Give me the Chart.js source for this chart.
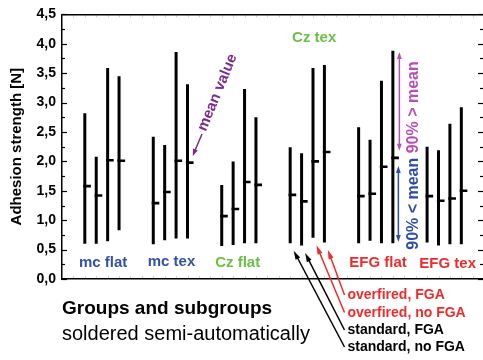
<!DOCTYPE html>
<html><head><meta charset="utf-8">
<script src="https://cdn.jsdelivr.net/npm/chart.js@4"></script>
<style>html,body{margin:0;padding:0;background:#fff}#wrap{width:483px;height:360px}</style>
</head><body><div id="wrap"><canvas id="c" width="483" height="360"></canvas></div>
<script>
// ---- data ----
const groups = ['mc flat', 'mc tex', 'Cz flat', 'Cz tex', 'EFG flat', 'EFG tex'];
const subgroups = ['standard, no FGA', 'standard, FGA', 'overfired, no FGA', 'overfired, FGA'];
const lowValues = [
  [0.60, 0.60, 0.64, 0.83],
  [0.59, 0.66, 0.69, 0.69],
  [0.56, 0.58, 0.61, 0.61],
  [0.61, 0.57, 0.70, 0.62],
  [0.61, 0.65, 0.61, 0.61],
  [0.62, 0.57, 0.59, 0.59]
];
const highValues = [
  [2.82, 2.08, 3.59, 3.45],
  [2.42, 2.28, 3.86, 3.31],
  [1.60, 2.00, 3.23, 2.75],
  [2.24, 2.14, 3.59, 3.64],
  [2.58, 2.37, 3.37, 3.88],
  [2.25, 2.19, 2.64, 2.92]
];
const meanValues = [
  [1.58, 1.42, 2.02, 2.01],
  [1.29, 1.48, 2.01, 1.98],
  [1.07, 1.19, 1.65, 1.60],
  [1.43, 1.32, 2.00, 2.16],
  [1.41, 1.45, 1.91, 2.06],
  [1.41, 1.33, 1.37, 1.50]
];
const yTickValues = [0, 0.5, 1, 1.5, 2, 2.5, 3, 3.5, 4, 4.5];

// ---- styles ----
const FONT = '"Liberation Sans", Arial, Helvetica, sans-serif';
const BLUE = '#3551a4', GREEN = '#6abf45', RED = '#ee2b2b';
const groupColors = [BLUE, BLUE, GREEN, GREEN, RED, RED];
const subColors = ['#000', '#000', RED, RED];

function xPos(g, s) { return 6 * g + s + 1; }

const rangeData = [], meanData = [];
groups.forEach((g, gi) => {
  subgroups.forEach((sg, si) => {
    const x = xPos(gi, si);
    rangeData.push({x: x, y: lowValues[gi][si]}, {x: x, y: highValues[gi][si]}, {x: x, y: null});
    meanData.push({x: x - 0.14, y: meanValues[gi][si]}, {x: x + 0.53, y: meanValues[gi][si]}, {x: x + 0.53, y: null});
  });
});

function arrow(ctx, x1, y1, x2, y2, color, both, hl, hw) {
  hl = hl || 8; hw = hw || 2.6;
  ctx.save();
  ctx.strokeStyle = color; ctx.fillStyle = color; ctx.lineWidth = 1.5;
  const a = Math.atan2(y2 - y1, x2 - x1);
  const ux = Math.cos(a), uy = Math.sin(a);
  ctx.beginPath();
  ctx.moveTo(x1 + (both ? ux * hl * 0.8 : 0), y1 + (both ? uy * hl * 0.8 : 0));
  ctx.lineTo(x2 - ux * hl * 0.8, y2 - uy * hl * 0.8);
  ctx.stroke();
  const head = (px, py, dx, dy) => {
    ctx.beginPath();
    ctx.moveTo(px, py);
    ctx.lineTo(px - dx * hl - dy * hw, py - dy * hl + dx * hw);
    ctx.lineTo(px - dx * hl + dy * hw, py - dy * hl - dx * hw);
    ctx.closePath(); ctx.fill();
  };
  head(x2, y2, ux, uy);
  if (both) head(x1, y1, -ux, -uy);
  ctx.restore();
}

function rotText(ctx, text, cx, cy, ang, color, font) {
  ctx.save();
  ctx.translate(cx, cy); ctx.rotate(ang);
  ctx.fillStyle = color; ctx.font = font;
  ctx.textAlign = 'center'; ctx.textBaseline = 'middle';
  ctx.fillText(text, 0, 0);
  ctx.restore();
}

const annot = {
  id: 'annot',
  afterDraw(chart) {
    const ctx = chart.ctx, xs = chart.scales.x, ys = chart.scales.y, ca = chart.chartArea;
    ctx.save();
    // inward ticks left & right
    ctx.strokeStyle = '#000'; ctx.lineWidth = 1.2;
    for (let v = 0; v <= 4.5001; v += 0.25) {
      const y = Math.round(ys.getPixelForValue(v)) + 0.5;
      const major = Math.abs(v * 2 - Math.round(v * 2)) < 1e-6;
      const len = major ? 5 : 3;
      ctx.beginPath(); ctx.moveTo(ca.left, y); ctx.lineTo(ca.left + len, y); ctx.stroke();
      ctx.beginPath(); ctx.moveTo(ca.right, y); ctx.lineTo(ca.right - len, y); ctx.stroke();
    }
    // faint top/bottom ticks
    ctx.strokeStyle = 'rgba(0,0,0,0.18)'; ctx.lineWidth = 1;
    for (let v = 0; v <= 35; v++) {
      const x = Math.round(xs.getPixelForValue(v)) + 0.5;
      ctx.beginPath(); ctx.moveTo(x, ca.top); ctx.lineTo(x, ca.top + 3); ctx.stroke();
      ctx.beginPath(); ctx.moveTo(x, ca.bottom); ctx.lineTo(x, ca.bottom - 3); ctx.stroke();
    }
    // group labels
    const labelPos = [[2.6, 0.28], [8.6, 0.29], [14.4, 0.28], [21.1, 4.10], [26.7, 0.28], [32.8, 0.26]];
    ctx.font = 'bold 15px ' + FONT;
    ctx.textAlign = 'center'; ctx.textBaseline = 'middle';
    groups.forEach((g, gi) => {
      ctx.fillStyle = groupColors[gi];
      ctx.fillText(g, xs.getPixelForValue(labelPos[gi][0]), ys.getPixelForValue(labelPos[gi][1]));
    });
    // mean value annotation
    const mx = xs.getPixelForValue(xPos(1, 3)), my = ys.getPixelForValue(meanValues[1][3]);
    arrow(ctx, mx + 14.5, my - 28.5, mx + 5.2, my - 6.7, '#7d2a8f', false, 7, 2.6);
    rotText(ctx, 'mean value', mx + 30, my - 70, -67.5 * Math.PI / 180, '#7d2a8f', 'bold 15px ' + FONT);
    // 90% arrows
    const ex = xs.getPixelForValue(xPos(4, 3) + 0.57);
    arrow(ctx, ex, ys.getPixelForValue(3.86), ex, ys.getPixelForValue(2.18), '#b650b4', true, 7, 2.4);
    arrow(ctx, ex - 1, ys.getPixelForValue(1.92), ex - 1, ys.getPixelForValue(0.63), '#2e4ea6', true, 7, 2.4);
    const tx = xs.getPixelForValue(xPos(4, 3) + 1.8);
    rotText(ctx, '90% > mean', tx, ys.getPixelForValue(2.92), -Math.PI / 2, '#b650b4', 'bold 16px ' + FONT);
    rotText(ctx, '90% < mean', tx, ys.getPixelForValue(1.28), -Math.PI / 2, '#2e4ea6', 'bold 16px ' + FONT);
    // subgroup arrows + labels
    const baselines = [351, 334, 316.5, 299];
    ctx.font = 'bold 14px ' + FONT; ctx.textAlign = 'left'; ctx.textBaseline = 'alphabetic';
    subgroups.forEach((sg, si) => {
      const bx = xs.getPixelForValue(xPos(3, si)) + 3.5;
      const by = ys.getPixelForValue(lowValues[3][si]) + 7.5;
      arrow(ctx, 344.5, baselines[si] - 4, bx, by, subColors[si], false, 9, 2.6);
      ctx.fillStyle = subColors[si];
      ctx.fillText(sg, 347.5, baselines[si]);
    });
    // bottom texts
    ctx.fillStyle = '#000';
    ctx.font = 'bold 19px ' + FONT;
    ctx.fillText('Groups and subgroups', ca.left, 314);
    ctx.font = '20px ' + FONT;
    ctx.fillText('soldered semi-automatically', ca.left, 340);
    ctx.restore();
  }
};

const noAxis = {
  type: 'linear', min: -1, max: 35.9,
  grid: {display: false},
  ticks: {display: false},
  border: {display: true, color: '#000', width: 1.5},
  afterFit: s => { s.height = 0; }
};

new Chart(document.getElementById('c'), {
  type: 'scatter',
  data: {
    datasets: [
      {label: 'range', data: rangeData, showLine: true, spanGaps: false, borderColor: '#000', borderWidth: 3,
       borderCapStyle: 'butt', pointRadius: 0, pointHoverRadius: 0, xAxisID: 'x', yAxisID: 'y'},
      {label: 'mean', data: meanData, showLine: true, spanGaps: false, borderColor: '#000', borderWidth: 2.6,
       borderCapStyle: 'butt', pointRadius: 0, pointHoverRadius: 0, xAxisID: 'x', yAxisID: 'y'}
    ]
  },
  options: {
    responsive: false, animation: false, devicePixelRatio: 1,
    layout: {padding: {left: 4, top: 12, right: 0, bottom: 81}},
    plugins: {legend: {display: false}, tooltip: {enabled: false}},
    scales: {
      x: Object.assign({position: 'bottom'}, noAxis),
      x2: Object.assign({position: 'top'}, noAxis),
      y: {
        type: 'linear', min: 0, max: 4.5,
        afterBuildTicks: s => { s.ticks = yTickValues.map(v => ({value: v})); },
        ticks: {
          callback: v => v.toFixed(1).replace('.', ','),
          font: {family: FONT, size: 14, weight: 'bold'}, color: '#000', padding: 6
        },
        grid: {display: false, drawTicks: false},
        border: {display: true, color: '#000', width: 1.5},
        title: {display: true, text: 'Adhesion strength [N]', color: '#000',
                font: {family: FONT, size: 15, weight: 'bold'}, padding: {top: 4, bottom: 0}},
        afterFit: s => { s.width = 58; }
      }
    }
  },
  plugins: [annot]
});
</script></body></html>
